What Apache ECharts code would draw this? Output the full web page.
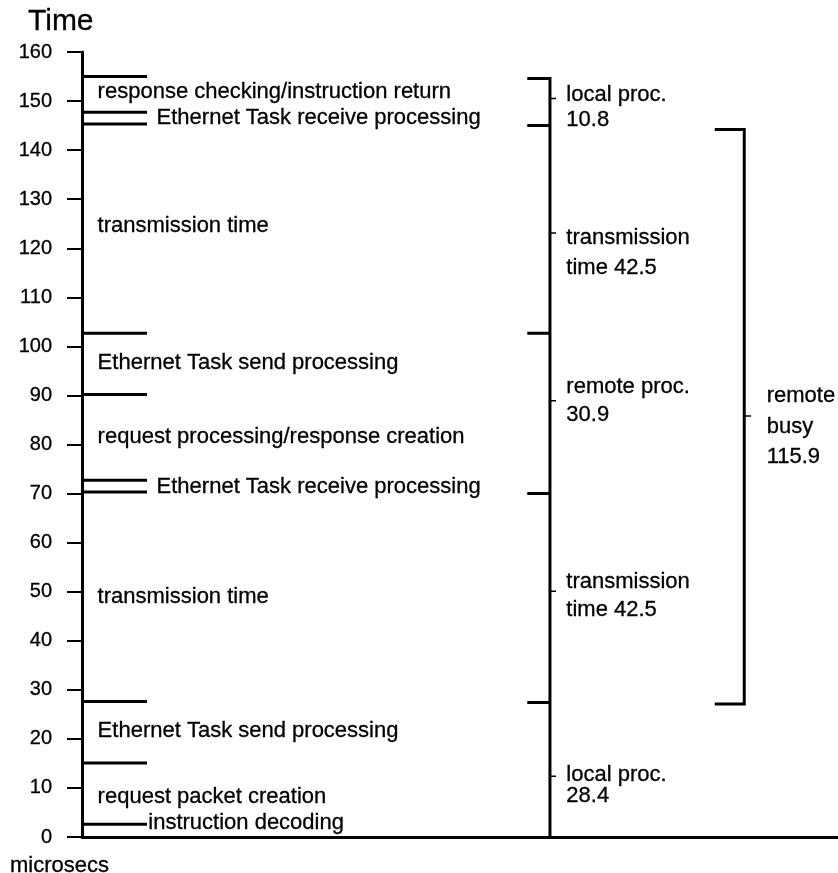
<!DOCTYPE html>
<html><head><meta charset="utf-8">
<script src="https://cdn.jsdelivr.net/npm/echarts@6/dist/echarts.min.js"></script>
<style>html,body{margin:0;padding:0;background:#fff}#c{width:838px;height:873px}</style>
</head><body><div id="c"></div>
<script>
// ---- data (microseconds) ----
// event marks drawn on the left time line
const eventMarks = [155, 147.7, 145.3, 102.7, 90.2, 72.7, 70.3, 27.6, 15.1, 2.6];
// left column annotations and their time positions
const eventLabels = ["response checking/instruction return", "Ethernet Task receive processing", "transmission time",
  "Ethernet Task send processing", "request processing/response creation", "Ethernet Task receive processing",
  "transmission time", "Ethernet Task send processing", "request packet creation", "instruction decoding"];
const eventLabelTimes = [151.8, 146.6, 124.5, 96.6, 81.6, 71.4, 48.9, 21.6, 8.1, 2.8];
const eventLabelAnchor = ["axis", "mark", "axis", "axis", "axis", "mark", "axis", "axis", "axis", "markTight"];
// phase bracket (middle)
const phaseBounds = [0, 27.4, 70, 102.7, 145, 154.6];
const phaseMidTicks = [12.4, 50.1, 88.9, 123.1, 150.5];
const phaseNames = ["local proc.", "transmission", "remote proc.", "transmission", "local proc."];
const phaseValues = ["28.4", "time 42.5", "30.9", "time 42.5", "10.8"];
const phaseNameTimes = [12.6, 52, 91.8, 122.1, 151.2];
const phaseValueTimes = [8.4, 46.3, 86, 116, 146.1];
// remote busy bracket (right)
const remoteBusySpan = [27.1, 144.2];
const remoteBusyTick = 85.8;
const remoteBusyLines = ["remote", "busy", "115.9"];
const remoteBusyTimes = [89.9, 83.6, 77.5];

// ---- layout (horizontal positions in 0..100 units) ----
const X_MARK_END = 8.6, X_TXT = 2.0, X_TXT_MARK = 9.8, X_TXT_TIGHT = 8.7;
const X_MID = 61.9, X_MID_L = 58.9, X_MID_T = 62.7, X_MID_TXT = 64.0;
const X_R = 87.6, X_R_L = 83.7, X_R_T = 88.5, X_R_TXT = 90.5;

const FONT = 'Liberation Sans, Arial, sans-serif';
const black = '#000';

const markLines = eventMarks.map(t => ({coords: [[0, t], [X_MARK_END, t]]}));
const midTop = phaseBounds[phaseBounds.length - 1];
const bracketLines = [{coords: [[X_MID, 0], [X_MID, midTop], [X_MID_L, midTop]]}];
phaseBounds.slice(1, -1).forEach(t => bracketLines.push({coords: [[X_MID_L, t], [X_MID, t]]}));
bracketLines.push({coords: [[X_R_L, remoteBusySpan[0]], [X_R, remoteBusySpan[0]], [X_R, remoteBusySpan[1]], [X_R_L, remoteBusySpan[1]]]});
const smallTicks = phaseMidTicks.map(t => ({coords: [[X_MID, t], [X_MID_T, t]]}));
smallTicks.push({coords: [[X_R, remoteBusyTick], [X_R_T, remoteBusyTick]]});

const textPts = [];
eventLabels.forEach((s, i) => {
  const x = eventLabelAnchor[i] === 'axis' ? X_TXT : (eventLabelAnchor[i] === 'mark' ? X_TXT_MARK : X_TXT_TIGHT);
  textPts.push({name: s, value: [x, eventLabelTimes[i]]});
});
phaseNames.forEach((s, i) => {
  textPts.push({name: s, value: [X_MID_TXT, phaseNameTimes[i]]});
  textPts.push({name: phaseValues[i], value: [X_MID_TXT, phaseValueTimes[i]]});
});
remoteBusyLines.forEach((s, i) => textPts.push({name: s, value: [X_R_TXT, remoteBusyTimes[i]]}));

const bold = {textBorderColor: '#000', textBorderWidth: 0.3};
const chart = echarts.init(document.getElementById('c'), null, {renderer: 'canvas'});
chart.setOption({
  animation: false,
  backgroundColor: '#fff',
  textStyle: {fontFamily: FONT, color: black},
  title: [
    {text: 'Time', left: 23, top: 2, textStyle: Object.assign({fontFamily: FONT, fontSize: 30, fontWeight: 'normal', color: black}, bold)},
    {text: 'microsecs', left: 5, top: 850, textStyle: Object.assign({fontFamily: FONT, fontSize: 22, fontWeight: 'normal', color: black}, bold)}
  ],
  grid: {left: 82, right: 0, top: 52, bottom: 36, containLabel: false, outerBoundsMode: 'none'},
  xAxis: {
    type: 'value', min: 0, max: 100,
    axisLine: {show: true, lineStyle: {color: black, width: 3}},
    axisTick: {show: false}, axisLabel: {show: false}, splitLine: {show: false}
  },
  yAxis: {
    type: 'value', min: 0, max: 160, interval: 10,
    axisLine: {show: true, lineStyle: {color: black, width: 3}},
    axisTick: {show: true, length: 15, lineStyle: {color: black, width: 2}},
    axisLabel: Object.assign({fontFamily: FONT, fontSize: 20, color: black, margin: 30}, bold),
    splitLine: {show: false}
  },
  series: [
    {type: 'lines', coordinateSystem: 'cartesian2d', polyline: true, silent: true,
      lineStyle: {color: black, width: 3, opacity: 1}, data: markLines},
    {type: 'lines', coordinateSystem: 'cartesian2d', polyline: true, silent: true,
      lineStyle: {color: black, width: 3, opacity: 1}, data: bracketLines},
    {type: 'lines', coordinateSystem: 'cartesian2d', polyline: true, silent: true,
      lineStyle: {color: black, width: 1.5, opacity: 1}, data: smallTicks},
    {type: 'scatter', symbol: 'circle', symbolSize: 1, silent: true, data: textPts,
      itemStyle: {color: '#fff', opacity: 0},
      label: Object.assign({show: true, position: 'right', distance: 0, formatter: p => p.name, opacity: 1,
        fontFamily: FONT, fontSize: 22, color: '#000'}, bold)}
  ]
});
</script></body></html>
